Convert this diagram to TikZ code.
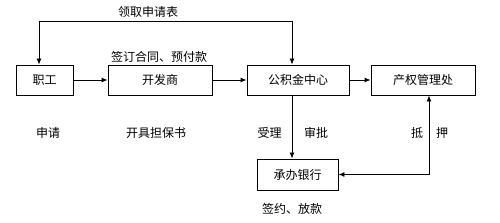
\documentclass[tikz,border=0pt]{standalone}
\usepackage{fontspec}
\setmainfont{Noto Sans CJK SC}
\usetikzlibrary{arrows.meta}
\begin{document}
\begin{tikzpicture}[x=1pt,y=-1pt,
  box/.style={draw,line width=0.9pt,minimum height=30pt,inner sep=0pt,font=\fontsize{12}{14}\selectfont},
  lbl/.style={inner sep=0pt,font=\fontsize{12}{14}\selectfont},
  arr/.style={line width=0.9pt,-{Latex[length=6pt,width=5pt]}}]
\useasboundingbox (0,0) rectangle (500,222);
\node[box,minimum width=57pt] (zg) at (44.5,80) {职工};
\node[box,minimum width=104pt] (kfs) at (160,80) {开发商};
\node[box,minimum width=102pt] (gjj) at (298,80) {公积金中心};
\node[box,minimum width=104pt] (cq) at (423,80) {产权管理处};
\node[box,minimum width=81pt,minimum height=31pt] (yh) at (297.5,174.5) {承办银行};
\coordinate (tl) at (39,21);
\coordinate (tr) at (292,21);
\coordinate (br) at (429,174.5);
\draw[arr] (zg) -- (kfs);
\draw[arr] (kfs) -- (gjj);
\draw[arr] (gjj) -- (cq);
\draw[arr] (tr) -- (tr |- gjj.north);
\draw[arr] (tr) -- (tl) -- (tl |- zg.north);
\draw[arr] (gjj.south -| tr) -- (tr |- yh.north);
\draw[arr] (br) -- (br |- cq.south);
\draw[arr] (br) -- (yh.east);
\node[lbl] (t1) at (148,12) {领取申请表};
\node[lbl] (t2) at (159,57) {签订合同、预付款};
\node[lbl] (t3) at (48,133) {申请};
\node[lbl] (t4) at (156,133) {开具担保书};
\node[lbl] (t5) at (269.5,133) {受理};
\node[lbl] (t6) at (316,133) {审批};
\node[lbl] (t7) at (417,133) {抵};
\node[lbl] (t8) at (442,133) {押};
\node[lbl] (t9) at (292,209) {签约、放款};
\end{tikzpicture}
\end{document}
